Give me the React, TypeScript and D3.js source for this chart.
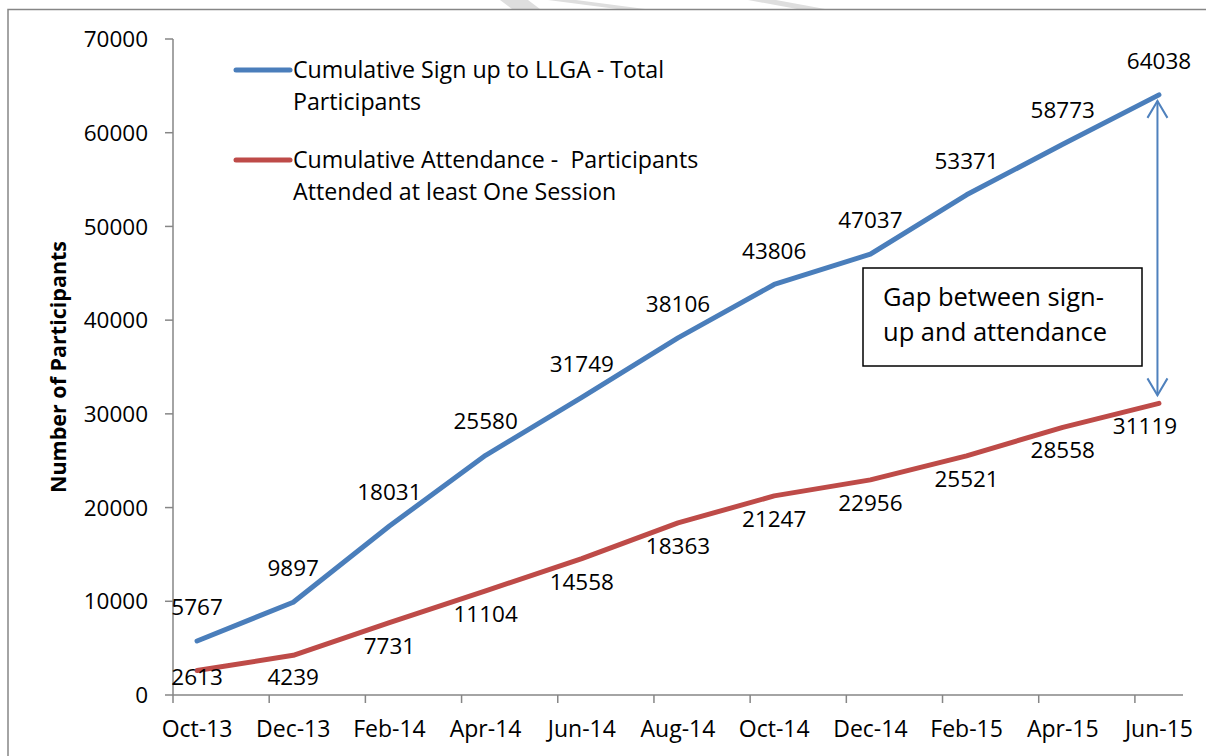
import React, { useEffect, useRef } from 'react';
import * as d3 from 'd3';

const categories = ["Oct-13", "Dec-13", "Feb-14", "Apr-14", "Jun-14", "Aug-14", "Oct-14", "Dec-14", "Feb-15", "Apr-15", "Jun-15"];
const signUp = [5767, 9897, 18031, 25580, 31749, 38106, 43806, 47037, 53371, 58773, 64038];
const attended = [2613, 4239, 7731, 11104, 14558, 18363, 21247, 22956, 25521, 28558, 31119];
const yTicks = [0, 10000, 20000, 30000, 40000, 50000, 60000, 70000];
const legendLabels = [
  ["Cumulative Sign up to LLGA - Total", "Participants"],
  ["Cumulative Attendance -  Participants", "Attended at least One Session"],
];
const noteLines = ["Gap between sign-", "up and attendance"];

const W = 1206;
const H = 756;
const FONT = "'Open Sans', Lato, sans-serif";
const BLUE = "#4A7EBB";
const RED = "#BE4B48";
const AXIS = "#868686";

function App() {
  const ref = useRef<SVGSVGElement>(null);

  useEffect(() => {
    const svg = d3.select(ref.current);
    svg.selectAll("*").remove();

    // plot area
    const left = 173, right = 1183, top = 39, bottom = 695;
    // one slot per month, categories are every second month
    const nMonths = categories.length * 2 - 1;
    const x = d3.scaleLinear().domain([0, nMonths]).range([left, right]);
    const y = d3.scaleLinear().domain([0, 70000]).range([bottom, top]);
    const px = (i: number) => x(i * 2 + 0.5);

    // watermark scraps + frame
    const wm = svg.append("g").attr("fill", "#DEDEDE");
    [[500, 520], [548, 625], [748, 805]].forEach(([a, b]) => {
      wm.append("polygon")
        .attr("points", `${a},0 ${a + 28},0 ${b + 20},9 ${b - 8},9`);
    });
    svg.append("rect")
      .attr("x", 8).attr("y", 9.5)
      .attr("width", W + 20).attr("height", H + 20)
      .attr("fill", "none").attr("stroke", AXIS).attr("stroke-width", 1.5);

    // y axis
    const gy = svg.append("g");
    gy.append("line").attr("x1", left).attr("x2", left).attr("y1", top).attr("y2", bottom)
      .attr("stroke", AXIS).attr("stroke-width", 1.5);
    yTicks.forEach((t) => {
      gy.append("line").attr("x1", left - 8).attr("x2", left).attr("y1", y(t)).attr("y2", y(t))
        .attr("stroke", AXIS).attr("stroke-width", 1.5);
      gy.append("text").attr("x", 148).attr("y", y(t)).attr("dy", "0.36em")
        .attr("text-anchor", "end").style("font", `22.5px ${FONT}`).attr("fill", "#000")
        .text(t);
    });

    // x axis
    const gx = svg.append("g");
    gx.append("line").attr("x1", left).attr("x2", right).attr("y1", bottom).attr("y2", bottom)
      .attr("stroke", AXIS).attr("stroke-width", 1.5);
    categories.forEach((c, i) => {
      gx.append("line").attr("x1", x(i * 2)).attr("x2", x(i * 2)).attr("y1", bottom).attr("y2", bottom + 8)
        .attr("stroke", AXIS).attr("stroke-width", 1.5);
      gx.append("text").attr("x", px(i)).attr("y", 737)
        .attr("text-anchor", "middle").style("font", `23px ${FONT}`).attr("fill", "#000")
        .text(c);
    });

    // y axis title
    svg.append("text")
      .attr("transform", `translate(66,${(top + bottom) / 2}) rotate(-90)`)
      .attr("text-anchor", "middle")
      .style("font", `bold 21.5px ${FONT}`)
      .text("Number of Participants");

    // lines
    const line = d3.line<number>().x((d, i) => px(i)).y((d) => y(d));
    [[signUp, BLUE], [attended, RED]].forEach(([vals, col]) => {
      svg.append("path").attr("d", line(vals as number[]))
        .attr("fill", "none").attr("stroke", col as string).attr("stroke-width", 5)
        .attr("stroke-linecap", "round").attr("stroke-linejoin", "round");
    });

    // data labels: above the blue line, below the red one (kept inside the plot)
    svg.selectAll("text.lblS").data(signUp).enter().append("text")
      .attr("class", "lblS")
      .attr("x", (d, i) => px(i)).attr("y", (d) => y(d) - 34).attr("dy", "0.36em")
      .attr("text-anchor", "middle").style("font", `22.5px ${FONT}`)
      .text((d) => d);
    svg.selectAll("text.lblA").data(attended).enter().append("text")
      .attr("class", "lblA")
      .attr("x", (d, i) => Math.min(px(i), right - 38))
      .attr("y", (d) => Math.min(y(d) + 23, bottom - 18)).attr("dy", "0.36em")
      .attr("text-anchor", "middle").style("font", `22.5px ${FONT}`)
      .text((d) => d);

    // legend
    [BLUE, RED].forEach((col, k) => {
      const ly = 70 + k * 90;
      svg.append("line").attr("x1", 236).attr("x2", 290).attr("y1", ly).attr("y2", ly)
        .attr("stroke", col).attr("stroke-width", 5).attr("stroke-linecap", "round");
      legendLabels[k].forEach((s, j) => {
        svg.append("text").attr("x", 293).attr("y", ly + 8 + j * 32)
          .style("font", `23.2px ${FONT}`).style("white-space", "pre").text(s);
      });
    });

    // annotation box
    svg.append("rect").attr("x", 863).attr("y", 268).attr("width", 279).attr("height", 98)
      .attr("fill", "#fff").attr("stroke", "#000").attr("stroke-width", 1.5);
    noteLines.forEach((s, j) => {
      svg.append("text").attr("x", 883).attr("y", 306 + j * 35)
        .style("font", `25.5px ${FONT}`).text(s);
    });

    // double arrow between series at the last point
    const ax = px(categories.length - 1) - 1.5;
    const y1 = y(signUp[signUp.length - 1]) + 6;
    const y2 = y(attended[attended.length - 1]) - 8;
    const ga = svg.append("g").attr("stroke", "#4F81BD").attr("stroke-width", 2).attr("fill", "none");
    ga.append("line").attr("x1", ax).attr("x2", ax).attr("y1", y1).attr("y2", y2);
    ga.append("path").attr("d", `M${ax - 10},${y1 + 17}L${ax},${y1}L${ax + 10},${y1 + 17}`);
    ga.append("path").attr("d", `M${ax - 10},${y2 - 17}L${ax},${y2}L${ax + 10},${y2 - 17}`);
  }, []);

  return (
    <svg ref={ref} width={W} height={H}
      style={{ position: "absolute", left: 0, top: 0, background: "#fff" }} />
  );
}

export default App;
